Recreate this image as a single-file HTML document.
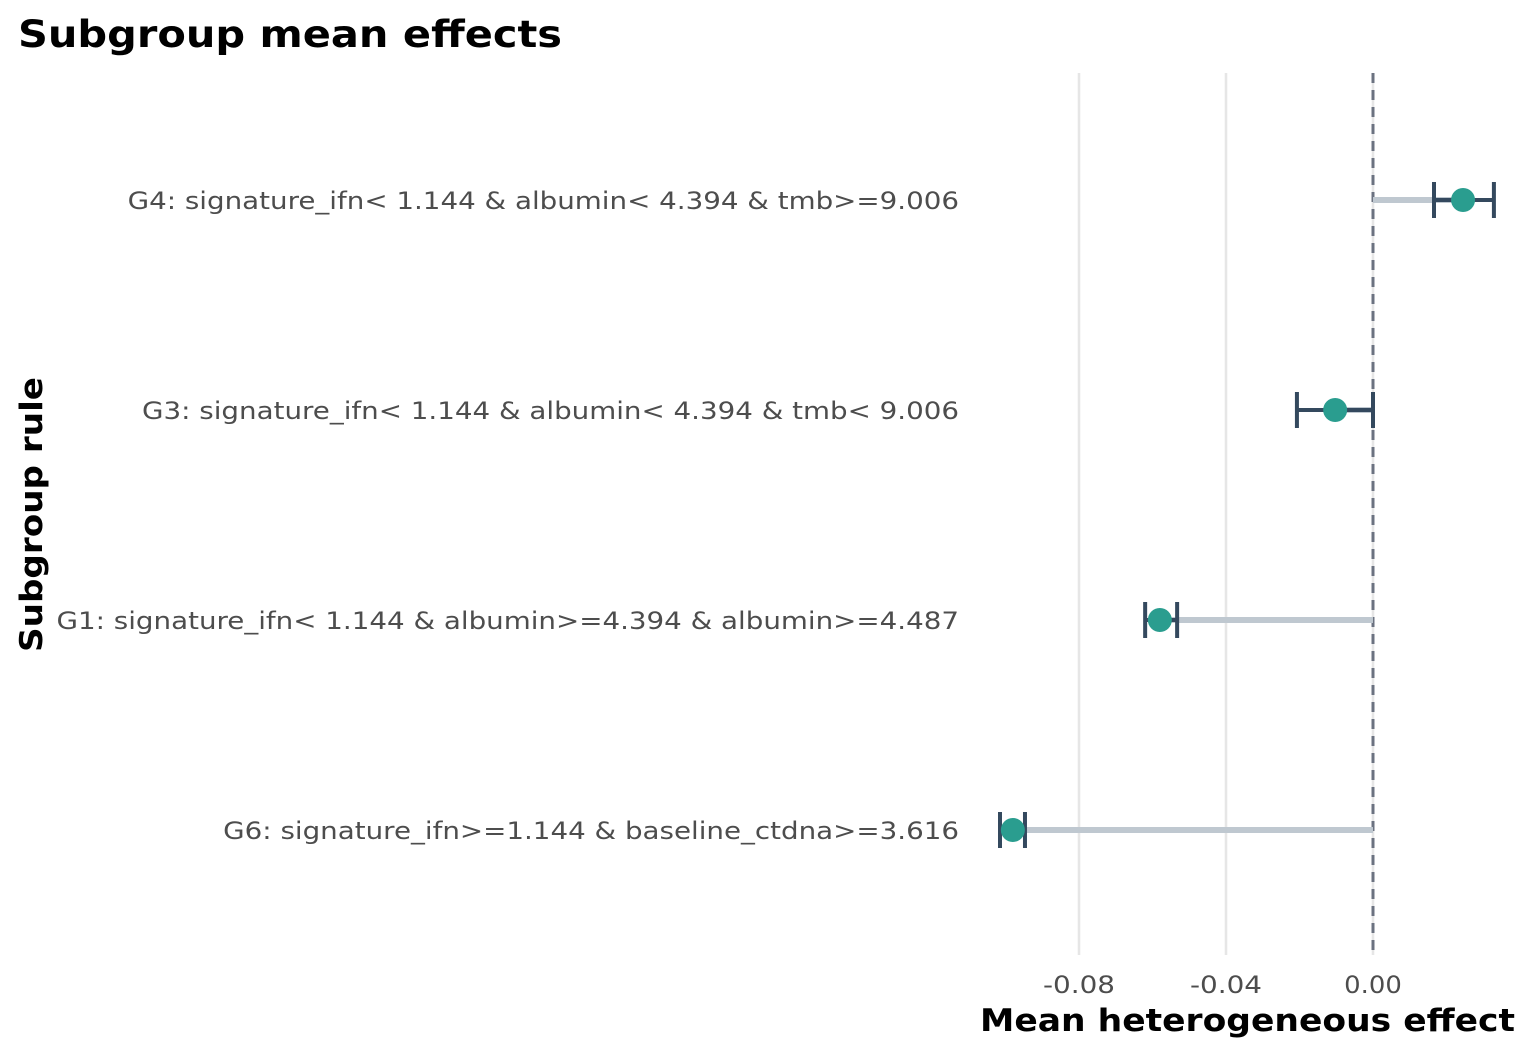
<!DOCTYPE html>
<html><head><meta charset="utf-8"><style>
html,body{margin:0;padding:0;background:#fff;}
svg{display:block;font-family:"DejaVu Sans","Liberation Sans",sans-serif;}
</style></head><body>
<svg id="chart" width="1536" height="1056" viewBox="0 0 1536 1056">
<text x="18" y="47" font-size="37" font-weight="bold" fill="#000" textLength="544" lengthAdjust="spacingAndGlyphs">Subgroup mean effects</text>
<g id="grid"></g>
<g id="rows"></g>
<g id="ticks"></g>
<text x="980" y="1031" font-size="31" font-weight="bold" fill="#000" textLength="535" lengthAdjust="spacingAndGlyphs">Mean heterogeneous effect</text>
<text transform="translate(42,652) rotate(-90)" font-size="31" font-weight="bold" fill="#000" textLength="275" lengthAdjust="spacingAndGlyphs">Subgroup rule</text>
</svg>
<script>
const labels=["G4: signature_ifn< 1.144 & albumin< 4.394 & tmb>=9.006","G3: signature_ifn< 1.144 & albumin< 4.394 & tmb< 9.006","G1: signature_ifn< 1.144 & albumin>=4.394 & albumin>=4.487","G6: signature_ifn>=1.144 & baseline_ctdna>=3.616"];
const means=[0.0245,-0.0103,-0.058,-0.098];
const lower=[0.0166,-0.0207,-0.062,-0.1015];
const upper=[0.0329,0.0,-0.0533,-0.0947];
const tickVals=[-0.08,-0.04,0.0];
const tickLabels=["-0.08","-0.04","0.00"];
const NS="http://www.w3.org/2000/svg";
const x=v=>1373+v*3675;
const y=i=>200+i*210;
function mk(tag,attrs,parent,text){const e=document.createElementNS(NS,tag);for(const k in attrs)e.setAttribute(k,attrs[k]);if(text!==undefined)e.textContent=text;parent.appendChild(e);return e;}
const grid=document.getElementById('grid'),rows=document.getElementById('rows'),ticks=document.getElementById('ticks');
tickVals.forEach((v,i)=>{
  const l=mk('line',{x1:x(v),x2:x(v),y1:73,y2:955,stroke:'#e6e6e6','stroke-width':2.5},grid);
  
  
  const t=mk('text',{x:x(v),y:993,'font-size':24,'text-anchor':'middle',fill:'#4d4d4d'},ticks,tickLabels[i]);
  
  
  t.setAttribute('textLength',tickLabels[i].length*14.4);
  t.setAttribute('lengthAdjust','spacingAndGlyphs');
});
const zl=mk('line',{x1:x(0),x2:x(0),y1:73,y2:955,stroke:'#6b7280','stroke-width':3,'stroke-dasharray':'10,7'},grid);


labels.forEach((lab,i)=>{
  const yy=y(i);
  const t=mk('text',{x:959,y:yy+9,'font-size':24,'text-anchor':'end',fill:'#4d4d4d'},rows,lab);
  
  
  const w=t.getComputedTextLength();
  t.setAttribute('textLength',w*1.155);
  t.setAttribute('lengthAdjust','spacingAndGlyphs');
  const s=mk('line',{x1:x(0),x2:x(means[i]),y1:yy,y2:yy,stroke:'#bfc8d0','stroke-width':6},rows);
  
  
  const g=mk('g',{stroke:'#34495e','stroke-width':4,fill:'none'},rows);
  
  
  mk('line',{x1:x(lower[i]),x2:x(upper[i]),y1:yy,y2:yy},g);
  mk('line',{x1:x(lower[i]),x2:x(lower[i]),y1:yy-18,y2:yy+18},g);
  mk('line',{x1:x(upper[i]),x2:x(upper[i]),y1:yy-18,y2:yy+18},g);
  const c=mk('circle',{cx:x(means[i]),cy:yy,r:12,fill:'#2a9d8f'},rows);
  
  
});
</script>
</body></html>
